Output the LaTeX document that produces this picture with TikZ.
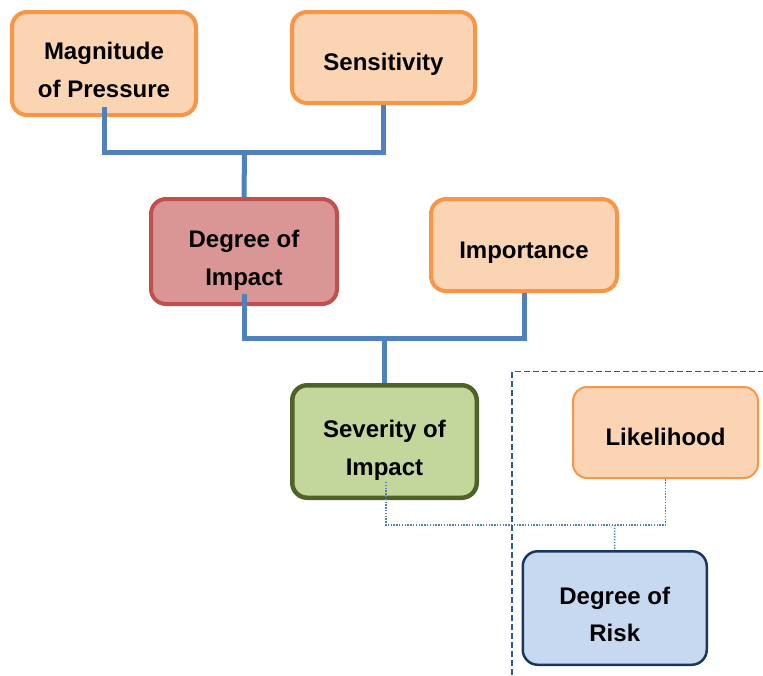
\documentclass[tikz,border=0pt]{standalone}
\usepackage{fontspec}
\setmainfont{Liberation Sans}
\newcommand\myTopStrut{\rule{0pt}{38pt}}
\newcommand\myBotStrut{\rule[-8pt]{0pt}{8pt}}
\newcommand\myOneStrut{\rule[-8pt]{0pt}{42pt}}
\definecolor{obord}{HTML}{F79646}
\definecolor{ofill}{HTML}{FBD4B4}
\definecolor{rbord}{HTML}{C0504D}
\definecolor{rfill}{HTML}{D99694}
\definecolor{gbord}{HTML}{4F6228}
\definecolor{gfill}{HTML}{C3D69B}
\definecolor{bbord}{HTML}{17375E}
\definecolor{bfill}{HTML}{C6D9F1}
\definecolor{connc}{HTML}{4F81BD}
\definecolor{framec}{HTML}{2F5A8C}
\tikzset{
  box/.style={rectangle, rounded corners=15pt, inner sep=0pt, align=center,
    font=\fontsize{24}{37.5}\selectfont\bfseries},
  obox/.style={box, draw=obord, fill=ofill, line width=4pt},
  rbox/.style={box, draw=rbord, fill=rfill, line width=4pt},
  gbox/.style={box, draw=gbord, fill=gfill, line width=4.5pt},
  lbox/.style={box, draw=obord, fill=ofill, line width=2pt, rounded corners=14pt},
  bbox/.style={box, draw=bbord, fill=bfill, line width=2.5pt, rounded corners=15pt},
  conn/.style={draw=connc, line width=5pt},
  dotconn/.style={draw=connc, line width=1.5pt, dash pattern=on 1.4pt off 1.4pt},
  framel/.style={draw=framec, line width=1.8pt, dash pattern=on 6pt off 3pt}
}
\begin{document}
\begin{tikzpicture}[x=1pt, y=-1pt]
\useasboundingbox (0,0) rectangle (763,675);

\node[obox, minimum width=184pt, minimum height=103pt] (mag) at (104,63.5)
  {\myTopStrut Magnitude\\of Pressure\myBotStrut};
\node[obox, minimum width=183pt, minimum height=91pt] (sens) at (383.5,57.5)
  {\myOneStrut Sensitivity};
\node[rbox, minimum width=186pt, minimum height=105pt] (doi) at (244,251.5)
  {\myTopStrut Degree of\\Impact\myBotStrut};
\node[obox, minimum width=186pt, minimum height=92pt] (imp) at (524,245)
  {\myOneStrut Importance};
\node[gbox, minimum width=184.5pt, minimum height=112.5pt] (sev) at (384.5,441.5)
  {\myTopStrut Severity of\\Impact\myBotStrut};
\node[lbox, minimum width=185pt, minimum height=91pt] (lik) at (665.5,432.5)
  {\myOneStrut Likelihood};
\node[bbox, minimum width=184pt, minimum height=113.5pt] (risk) at (614.75,608)
  {\myTopStrut Degree of\\Risk\myBotStrut};

\coordinate (j1) at (244.5,152);
\coordinate (j2) at (384.5,338);
\coordinate (j3) at (614.5,525);
\coordinate (fb) at (512,675);
\coordinate (fc) at (512,371.5);
\coordinate (fr) at (763,371.5);

\draw[conn] ([yshift=10pt]mag.south) |- (j1) -| (sens.south);
\draw[conn] (j1) -- (doi.north);
\draw[conn] ([yshift=12pt]doi.south) |- (j2) -| (imp.south);
\draw[conn] (j2) -- (sev.north);

\draw[dotconn] ([xshift=1.5pt,yshift=18pt]sev.south) |- (j3) -| (lik.south);
\draw[dotconn] (j3) -- (risk.north);

\draw[framel] (fb) -- (fc) -- (fr);
\end{tikzpicture}
\end{document}
